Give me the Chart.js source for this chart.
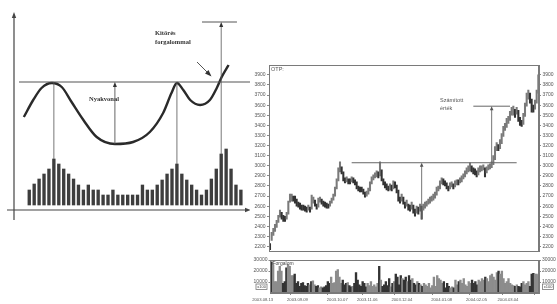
<!DOCTYPE html>
<html>
<head>
<meta charset="utf-8">
<script src="https://cdn.jsdelivr.net/npm/chart.js@4"></script>
<style>
html, body { margin: 0; padding: 0; background: #fff; width: 557px; height: 304px; overflow: hidden; }
canvas { position: absolute; }
#bal { left: 0; top: 0; }
#arfolyam { left: 250px; top: 60px; }
#forgalom { left: 250px; top: 256px; }
</style>
</head>
<body>
<canvas id="bal" width="250" height="230"></canvas>
<canvas id="arfolyam" width="307" height="196"></canvas>
<canvas id="forgalom" width="307" height="48"></canvas>
<script>
// --- bal oldali vázlat: csésze alakzat + forgalom ---
const vazlatForgalom = [
    15, 21, 26, 31, 36, 46, 41, 36, 31, 26, 20, 15, 20, 15, 15, 10, 10, 15, 10, 10, 10, 10,
    10, 20, 15, 15, 20, 25, 31, 36, 41, 31, 25, 20, 15, 10, 15, 26, 36, 51, 56, 36, 20, 15
];
const gorbeX = [-1.1, 0.8, 2.5, 4.6, 6.6, 8.6, 11, 13.7, 17.4, 21.1, 24.5, 27.2, 28.9, 30, 31.3, 32.7, 34.7, 36.7, 38.1, 39.1, 40.5];
const gorbeY = [93, 110, 122, 127, 123, 108, 90, 73, 66, 68, 78, 97, 117, 127, 120, 110, 105, 110, 122, 133, 145];
const vazlatNyak = 128;
const vazlatCel = 188;
const vazlatCsucsok = [5, 30];
const vazlatKitores = 39;

// --- OTP árfolyam (napi minimum / maximum) ---
const arfMin = [
    2170, 2260, 2310, 2350, 2390, 2440, 2490, 2470, 2450, 2450,
    2470, 2520, 2640, 2650, 2650, 2630, 2600, 2590, 2570, 2560,
    2560, 2550, 2540, 2560, 2540, 2570, 2630, 2600, 2570, 2590,
    2640, 2620, 2600, 2590, 2580, 2580, 2600, 2630, 2660, 2700,
    2770, 2850, 2940, 2920, 2850, 2830, 2840, 2820, 2820, 2840,
    2830, 2810, 2770, 2750, 2740, 2740, 2720, 2690, 2700, 2720,
    2750, 2820, 2860, 2880, 2890, 2880, 2900, 2850, 2810, 2780,
    2760, 2750, 2760, 2750, 2770, 2780, 2730, 2650, 2630, 2650,
    2620, 2580, 2600, 2560, 2550, 2570, 2530, 2500, 2530, 2520,
    2550, 2470, 2560, 2580, 2600, 2620, 2630, 2650, 2660, 2680,
    2710, 2750, 2770, 2820, 2810, 2800, 2770, 2750, 2770, 2790,
    2770, 2790, 2810, 2810, 2830, 2840, 2870, 2890, 2920, 2940,
    2950, 2940, 2920, 2910, 2890, 2910, 2940, 2950, 2960, 2890,
    2930, 2960, 2970, 2980, 3010, 3060, 3150, 3150, 3170, 3220,
    3290, 3350, 3380, 3420, 3450, 3500, 3500, 3480, 3510, 3440,
    3400, 3390, 3410, 3490, 3590, 3660, 3620, 3530, 3530, 3560,
    3620, 3720
];
const arfMax = [
    2230, 2340, 2380, 2420, 2460, 2510, 2560, 2540, 2510, 2500,
    2540, 2650, 2720, 2720, 2700, 2700, 2670, 2640, 2630, 2610,
    2610, 2600, 2590, 2610, 2590, 2710, 2690, 2660, 2620, 2680,
    2690, 2670, 2650, 2640, 2630, 2620, 2650, 2680, 2720, 2790,
    2870, 2980, 3040, 2990, 2940, 2880, 2890, 2870, 2870, 2890,
    2880, 2860, 2840, 2800, 2790, 2790, 2770, 2740, 2750, 2780,
    2840, 2890, 2910, 2930, 2950, 2940, 3040, 2960, 2870, 2840,
    2820, 2800, 2820, 2810, 2850, 2840, 2810, 2760, 2690, 2720,
    2690, 2640, 2660, 2620, 2610, 2640, 2610, 2570, 2600, 2590,
    2620, 2600, 2620, 2640, 2650, 2670, 2690, 2700, 2720, 2740,
    2790, 2800, 2850, 2880, 2870, 2850, 2830, 2800, 2830, 2840,
    2820, 2850, 2860, 2860, 2880, 2900, 2920, 2950, 2980, 3000,
    3030, 3000, 2980, 2970, 2950, 2980, 3000, 3000, 3010, 2980,
    2990, 3010, 3020, 3040, 3100, 3190, 3230, 3210, 3260, 3320,
    3390, 3420, 3470, 3490, 3540, 3580, 3590, 3560, 3580, 3550,
    3480, 3450, 3520, 3620, 3720, 3750, 3720, 3660, 3600, 3650,
    3750, 3900
];
const forgalom = [
    28300, 25600, 10300, 10300, 20000, 24200, 20000, 8900, 10300, 22800,
    25600, 24200, 15800, 15800, 17200, 8900, 10300, 6100, 8900, 9400,
    6700, 6100, 8900, 7500, 10300, 11100, 7500, 6100, 6700, 4700,
    5600, 4700, 5600, 6700, 10300, 8900, 14400, 8900, 9400, 20000,
    21400, 14400, 8900, 11700, 7500, 8900, 9400, 6700, 5600, 6100,
    8900, 18600, 11700, 7500, 6100, 10300, 8900, 5600, 8900, 6700,
    10300, 6100, 7500, 5600, 8900, 24200, 11700, 6100, 7500, 10300,
    6700, 13100, 5600, 8900, 10300, 17200, 14400, 7500, 15800, 13100,
    11700, 14400, 10300, 15800, 11700, 13100, 8900, 7500, 10300, 8900,
    7500, 6100, 8900, 7500, 6100, 8900, 4700, 6700, 14400, 6100,
    15800, 13100, 11700, 8900, 10300, 4700, 8900, 6100, 4700, 5600,
    4700, 11700, 7500, 10300, 11700, 8900, 13100, 7500, 6100, 10300,
    8900, 11700, 8900, 10300, 7500, 11700, 10300, 13100, 11700, 14400,
    13100, 10300, 15800, 17200, 14400, 11700, 18600, 20000, 17200, 20000,
    13100, 8900, 10300, 13100, 8900, 7500, 6700, 6100, 7500, 6100,
    5600, 8900, 10300, 7500, 8900, 10300, 6100, 17200, 17800, 17200,
    17200, 15800
];
const arfTicks = [2200, 2300, 2400, 2500, 2600, 2700, 2800, 2900, 3000, 3100, 3200, 3300, 3400, 3500, 3600, 3700, 3800, 3900];
const forgTicks = [10000, 20000, 30000];
const datumIdx = [1, 22, 46, 64, 85, 109, 130, 149];
const datumok = ['2003.08.13', '2003.09.09', '2003.10.07', '2003.11.06', '2003.12.04', '2004.01.08', '2004.02.05', '2004.03.04'];
const nyakvonal = 3030;
const szamitott = 3590;

const betuKicsi = { family: 'Liberation Sans', size: 5 };

function nyilFel(ctx, x, yAlso, yFelso, w = 2.2, h = 5) {
    ctx.beginPath();
    ctx.moveTo(x, yAlso);
    ctx.lineTo(x, yFelso + h - 1);
    ctx.stroke();
    ctx.beginPath();
    ctx.moveTo(x, yFelso);
    ctx.lineTo(x - w, yFelso + h);
    ctx.lineTo(x + w, yFelso + h);
    ctx.closePath();
    ctx.fill();
}

function vonal(ctx, x1, y1, x2, y2) {
    ctx.beginPath();
    ctx.moveTo(x1, y1);
    ctx.lineTo(x2, y2);
    ctx.stroke();
}

// bal rajz extrák: tengelyek, nyakvonal, nyilak, feliratok
const vazlatRajz = {
    id: 'vazlatRajz',
    afterDatasetsDraw(chart) {
        const { ctx, chartArea: a, scales } = chart;
        const xs = scales.x, ys = scales.y, y2 = scales.y2;
        ctx.save();
        ctx.strokeStyle = '#444';
        ctx.fillStyle = '#444';
        ctx.lineWidth = 1.2;
        // tengelyek
        nyilFel(ctx, a.left, a.bottom + 10, 12, 2.2, 6);
        vonal(ctx, 7, a.bottom, 246, a.bottom);
        ctx.beginPath();
        ctx.moveTo(251, a.bottom);
        ctx.lineTo(245, a.bottom - 2.2);
        ctx.lineTo(245, a.bottom + 2.2);
        ctx.closePath();
        ctx.fill();

        // nyakvonal
        ctx.strokeStyle = '#555';
        ctx.lineWidth = 1.1;
        const yn = ys.getPixelForValue(vazlatNyak);
        vonal(ctx, 19, yn, a.right, yn);

        // csúcsoktól a forgalomig
        ctx.lineWidth = 0.8;
        vazlatCsucsok.forEach(i => {
            const x = xs.getPixelForValue(i);
            vonal(ctx, x, yn, x, y2.getPixelForValue(vazlatForgalom[i]));
        });

        // kitörés és célár
        ctx.fillStyle = '#333';
        const xk = xs.getPixelForValue(vazlatKitores);
        const yc = ys.getPixelForValue(vazlatCel);
        nyilFel(ctx, xk, y2.getPixelForValue(vazlatForgalom[vazlatKitores]), yc, 2, 5);
        ctx.lineWidth = 1;
        vonal(ctx, xs.getPixelForValue(35.1), yc, xs.getPixelForValue(42.2), yc);

        // nyakvonal magassága
        ctx.lineWidth = 0.9;
        const xa = xs.getPixelForValue(17.4);
        nyilFel(ctx, xa, ys.getPixelForValue(66), yn, 2, 5);

        // kis ferde nyíl
        ctx.lineWidth = 1;
        vonal(ctx, 197, 62, 208, 73);
        ctx.beginPath();
        ctx.moveTo(211.5, 76.5);
        ctx.lineTo(205, 73.5);
        ctx.lineTo(208.5, 70);
        ctx.closePath();
        ctx.fill();

        // feliratok
        ctx.fillStyle = '#333';
        ctx.font = 'bold 6.5px "Liberation Serif"';
        ctx.textBaseline = 'middle';
        ctx.fillText('Nyakvonal', 89, 99);
        ctx.fillText('Kitörés', 155, 33);
        ctx.fillText('forgalommal', 155, 42);
        ctx.restore();
    }
};

new Chart(document.getElementById('bal'), {
    type: 'bar',
    data: {
        datasets: [
            {
                type: 'line',
                data: gorbeX.map((x, i) => ({ x, y: gorbeY[i] })),
                borderColor: '#2a2a2a',
                borderWidth: 2.4,
                pointRadius: 0,
                cubicInterpolationMode: 'monotone',
                yAxisID: 'y'
            },
            {
                data: vazlatForgalom.map((v, i) => ({ x: i, y: v })),
                backgroundColor: '#3d3d3d',
                barThickness: 2.7,
                yAxisID: 'y2'
            }
        ]
    },
    options: {
        responsive: false,
        animation: false,
        events: [],
        layout: { padding: { left: 14, right: 0, top: 0, bottom: 20 } },
        plugins: { legend: { display: false }, tooltip: { enabled: false } },
        scales: {
            x: { type: 'linear', display: false, min: -3.1, max: 44.85, offset: false },
            y: { display: false, min: 0, max: 210 },
            y2: { display: false, min: -5, max: 205 }
        }
    },
    plugins: [vazlatRajz]
});

// jobb oldali grafikon keret + feliratok
const keret = {
    id: 'keret',
    afterDraw(chart) {
        const { ctx, chartArea: a } = chart;
        ctx.save();
        ctx.strokeStyle = '#7a7a7a';
        ctx.lineWidth = 1;
        ctx.strokeRect(Math.round(a.left) + 0.5, Math.round(a.top) + 0.5,
            Math.round(a.right - a.left) - 1, Math.round(a.bottom - a.top) - 1);
        ctx.restore();
    }
};

const arfRajz = {
    id: 'arfRajz',
    afterDatasetsDraw(chart) {
        const { ctx, chartArea: a, scales } = chart;
        const xs = scales.x, ys = scales.y;
        ctx.save();
        ctx.strokeStyle = '#666';
        ctx.fillStyle = '#555';
        ctx.lineWidth = 1;
        const yn = ys.getPixelForValue(nyakvonal);
        const yc = ys.getPixelForValue(szamitott);
        vonal(ctx, xs.getPixelForValue(49), yn, xs.getPixelForValue(148), yn);
        vonal(ctx, xs.getPixelForValue(122), yc, xs.getPixelForValue(144), yc);
        ctx.lineWidth = 0.9;
        nyilFel(ctx, xs.getPixelForValue(91), ys.getPixelForValue(2470), yn, 1.8, 4);
        nyilFel(ctx, xs.getPixelForValue(133), yn, yc, 1.8, 4);

        ctx.fillStyle = '#555';
        ctx.font = '5.5px "Liberation Sans"';
        ctx.textBaseline = 'middle';
        ctx.fillText('OTP:', a.left + 2, a.top + 4);
        ctx.fillText('Számított', xs.getPixelForValue(102), ys.getPixelForValue(3650));
        ctx.fillText('érték', xs.getPixelForValue(102), ys.getPixelForValue(3568));
        ctx.restore();
    }
};

const yTengely = (pos, szel) => ({
    position: pos,
    min: 2151,
    max: 3998,
    afterBuildTicks: s => { s.ticks = arfTicks.map(v => ({ value: v })); },
    afterFit: s => { s.width = szel; },
    ticks: { font: betuKicsi, color: '#555', padding: 1.5, callback: v => String(v) },
    grid: { drawOnChartArea: false, tickLength: 2, color: '#888' },
    border: { color: '#7a7a7a' }
});

new Chart(document.getElementById('arfolyam'), {
    type: 'bar',
    data: {
        datasets: [{
            data: arfMin.map((lo, i) => ({ x: i, y: [lo, arfMax[i]] })),
            backgroundColor: arfMin.map((lo, i) =>
                i > 0 && arfMax[i] + lo > arfMax[i - 1] + arfMin[i - 1] ? '#7a7a7a' : '#333'),
            barThickness: 1.4
        }]
    },
    options: {
        responsive: false,
        animation: false,
        events: [],
        layout: { padding: { top: 5, bottom: 2 } },
        plugins: { legend: { display: false }, tooltip: { enabled: false } },
        scales: {
            x: { type: 'linear', display: false, min: -0.6, max: 161.4, offset: false },
            y: yTengely('left', 19),
            y2: yTengely('right', 18)
        }
    },
    plugins: [arfRajz, keret]
});

const forgRajz = {
    id: 'forgRajz',
    afterDraw(chart) {
        const { ctx, chartArea: a } = chart;
        ctx.save();
        ctx.fillStyle = '#444';
        ctx.font = '5px "Liberation Sans"';
        ctx.textBaseline = 'middle';
        ctx.fillText('Forgalom', a.left + 2, a.top + 4);
        // x100 jelölés mindkét oldalon
        ctx.font = '4px "Liberation Sans"';
        ctx.strokeStyle = '#777';
        ctx.lineWidth = 0.8;
        [[a.left - 15, 30.5], [a.right + 3, 30.5]].forEach(([x, y]) => {
            ctx.clearRect(x, y - 2.5, 12, 5.5);
            ctx.strokeRect(x + 0.5, y - 2.5, 11, 5.5);
            ctx.fillText('x100', x + 1.8, y + 0.3);
        });
        ctx.restore();
    }
};

const vTengely = (pos, szel) => ({
    position: pos,
    min: 0,
    max: 30000,
    afterBuildTicks: s => { s.ticks = forgTicks.map(v => ({ value: v })); },
    afterFit: s => { s.width = szel; },
    ticks: { font: betuKicsi, color: '#555', padding: 1, callback: v => String(v) },
    grid: { drawOnChartArea: false, tickLength: 2, color: '#888' },
    border: { color: '#7a7a7a' }
});

new Chart(document.getElementById('forgalom'), {
    type: 'bar',
    data: {
        datasets: [{
            data: forgalom.map((v, i) => ({ x: i, y: v })),
            backgroundColor: forgalom.map((v, i) =>
                i > 0 && arfMax[i] + arfMin[i] > arfMax[i - 1] + arfMin[i - 1] ? '#8c8c8c' : '#333'),
            barThickness: 1.7
        }]
    },
    options: {
        responsive: false,
        animation: false,
        events: [],
        layout: { padding: { top: 2 } },
        plugins: { legend: { display: false }, tooltip: { enabled: false } },
        scales: {
            x: {
                type: 'linear',
                min: -0.6,
                max: 161.4,
                offset: false,
                afterBuildTicks: s => { s.ticks = datumIdx.map(v => ({ value: v })); },
                afterFit: s => { s.height = 11; },
                ticks: {
                    font: { family: 'Liberation Sans', size: 4.2 },
                    color: '#555',
                    padding: 2,
                    maxRotation: 0,
                    autoSkip: false,
                    align: 'end',
                    callback: v => datumok[datumIdx.indexOf(v)]
                },
                grid: { drawOnChartArea: false, tickLength: 2, color: '#888' },
                border: { color: '#7a7a7a' }
            },
            y: vTengely('left', 19),
            y2: vTengely('right', 18)
        }
    },
    plugins: [forgRajz, keret]
});
</script>
</body>
</html>
